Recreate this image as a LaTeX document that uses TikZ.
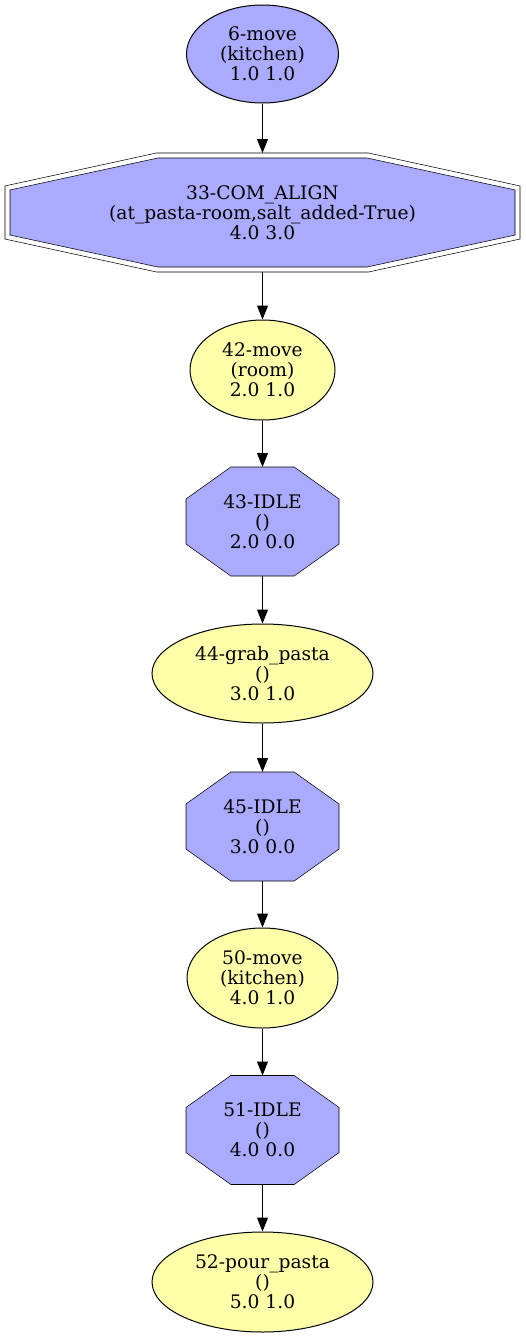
\documentclass[tikz,border=0pt]{standalone}
\usepackage{fontspec}
\setmainfont{DejaVu Serif}
\usepackage{xcolor}
\usetikzlibrary{shapes.geometric, arrows.meta, calc, backgrounds}
\definecolor{idleblue}{HTML}{AAAAFF}
\definecolor{actyellow}{HTML}{FFFFAA}
\tikzstyle{act} = [ellipse, draw=black, inner sep=0pt, align=center]
\tikzstyle{idle} = [rectangle, inner sep=0pt, outer sep=0pt, align=center, minimum width=114.75pt, minimum height=81.75pt]
\tikzstyle{arrow} = [-{Triangle[length=10.5pt, width=8.25pt]}]
% octagon between two corners (nw, se), cut fractions along width and height
\newcommand{\octopath}[4]{($(#1)!#3!(#1 -| #2)$) -- ($(#1 -| #2)!#3!(#1)$) -- ($(#1 -| #2)!#4!(#2)$) -- ($(#2)!#4!(#1 -| #2)$) -- ($(#2)!#3!(#1 |- #2)$) -- ($(#1 |- #2)!#3!(#2)$) -- ($(#1 |- #2)!#4!(#1)$) -- ($(#1)!#4!(#1 |- #2)$) -- cycle}

\begin{document}
\begin{tikzpicture}[x=0.75pt, y=-0.75pt, line width=0.75pt, font=\fontsize{14}{14.9}\selectfont]
        \useasboundingbox (0,0) rectangle (525,1338);
        % Plan steps, top to bottom
        \node (n6) [act, fill=idleblue, minimum width=114pt, minimum height=73.5pt] at (262.5,54) {6-move\\(kitchen)\\1.0 1.0};
        \node (n33) [idle, minimum width=386.25pt, minimum height=89.25pt] at (262.5,212.5) {33-COM\_ALIGN\\(at\_pasta-room,salt\_added-True)\\4.0 3.0};
        \node (n42) [act, fill=actyellow, minimum width=108.75pt, minimum height=75pt] at (262.5,370) {42-move\\(room)\\2.0 1.0};
        \node (n43) [idle] at (262.5,521.5) {43-IDLE\\()\\2.0 0.0};
        \node (n44) [act, fill=actyellow, minimum width=165.75pt, minimum height=74.25pt] at (262.5,673.5) {44-grab\_pasta\\()\\3.0 1.0};
        \node (n45) [idle] at (262.5,826.5) {45-IDLE\\()\\3.0 0.0};
        \node (n50) [act, fill=actyellow, minimum width=113.25pt, minimum height=75pt] at (262.5,978) {50-move\\(kitchen)\\4.0 1.0};
        \node (n51) [idle] at (262.5,1130) {51-IDLE\\()\\4.0 0.0};
        \node (n52) [act, fill=actyellow, minimum width=165.75pt, minimum height=75pt] at (262.5,1282) {52-pour\_pasta\\()\\5.0 1.0};

        % Octagon outlines behind the texts
        \begin{scope}[on background layer]
            \filldraw[fill=white] \octopath{n33.north west}{n33.south east}{0.294}{0.277};
            \coordinate (n33nw) at ($(n33.north west)+(5,5)$);
            \coordinate (n33se) at ($(n33.south east)-(5,5)$);
            \filldraw[fill=idleblue] \octopath{n33nw}{n33se}{0.293}{0.293};
            \foreach \n in {n43,n45,n51}
                \filldraw[fill=idleblue] \octopath{\n.north west}{\n.south east}{0.293}{0.293};
        \end{scope}

        % Arrows
        \foreach \a/\b in {n6/n33, n33/n42, n42/n43, n43/n44, n44/n45, n45/n50, n50/n51, n51/n52}
            \draw[arrow] (\a) -- (\b);
\end{tikzpicture}
\end{document}
